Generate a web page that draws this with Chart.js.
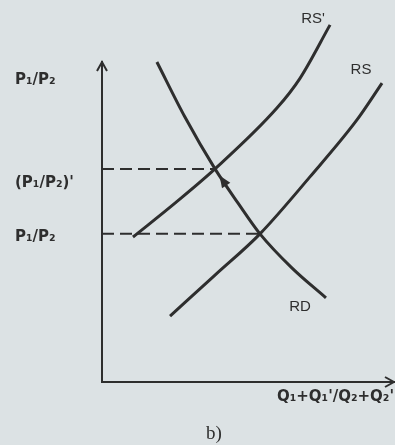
<!DOCTYPE html>
<html>
<head>
<meta charset="utf-8">
<script src="https://cdn.jsdelivr.net/npm/chart.js@4/dist/chart.umd.min.js"></script>
<style>
  html, body { margin: 0; padding: 0; background: #dce2e4; }
  #wrap { width: 395px; height: 445px; }
</style>
</head>
<body>
<div id="wrap"><canvas id="chart" width="395" height="445"></canvas></div>
<script>
/* ---------- Data (axis units 0..100) ---------- */
const rsX  = [23.3, 38.7, 54.1, 71.2, 87.3, 95.9];          // RS
const rsY  = [20.6, 33.4, 46.3, 64.1, 81.9, 93.4];
const rs2X = [10.6, 25.0, 38.7, 59.9, 67.8, 78.1];          // RS'
const rs2Y = [45.3, 55.9, 66.6, 85.6, 94.9, 111.6];
const rdX  = [18.8, 28.4, 38.7, 46.6, 54.1, 65.1, 76.7];    // RD
const rdY  = [100, 82.8, 66.6, 55.9, 46.3, 35.6, 26.3];
const eqX  = [38.7, 54.1];                                  // equilibria (dashed)
const eqY  = [66.6, 46.3];
const priceTicks  = [45.3, 62.2, 94.4];
const priceLabels = ['P₁/P₂', "(P₁/P₂)'", 'P₁/P₂'];
const curveNames  = ["RS'", 'RS', 'RD'];
const qLabel      = "Q₁+Q₁'/Q₂+Q₂'";
const panelLabel  = 'b)';

const INK = '#2e2e2e';
const pts = (xs, ys) => xs.map((x, i) => ({ x, y: ys[i] }));

/* ---------- Decorations: arrows + curve names ---------- */
const decor = {
  id: 'decor',
  afterDatasetsDraw(chart) {
    const { ctx, chartArea: a } = chart;
    ctx.save();
    ctx.strokeStyle = INK;
    ctx.fillStyle = INK;
    ctx.lineWidth = 2;

    // axis arrow heads
    ctx.beginPath();
    ctx.moveTo(a.left - 5, a.top + 9); ctx.lineTo(a.left, a.top); ctx.lineTo(a.left + 5, a.top + 9);
    ctx.moveTo(a.right - 9, a.bottom - 5); ctx.lineTo(a.right, a.bottom); ctx.lineTo(a.right - 9, a.bottom + 5);
    ctx.stroke();

    // small arrow on RD pointing to the new equilibrium
    const rd = chart.getDatasetMeta(2).data;
    const e1 = rd[2], e0 = rd[3];
    const dx = e0.x - e1.x, dy = e0.y - e1.y;
    const len = Math.hypot(dx, dy), ux = dx / len, uy = dy / len;
    const tip = { x: e1.x + ux * 8, y: e1.y + uy * 8 };
    const base = { x: e1.x + ux * 20, y: e1.y + uy * 20 };
    ctx.beginPath();
    ctx.moveTo(tip.x, tip.y);
    ctx.lineTo(base.x - uy * 5, base.y + ux * 5);
    ctx.lineTo(base.x + uy * 5, base.y - ux * 5);
    ctx.closePath();
    ctx.fill();

    // curve names near the ends
    ctx.font = '15px "Liberation Sans", Arial, sans-serif';
    ctx.textAlign = 'center';
    ctx.textBaseline = 'middle';
    const offs = [[-17, -6], [-21, -13], [-26, 9]];
    [1, 0, 2].forEach((di, k) => {
      const d = chart.getDatasetMeta(di).data;
      const p = d[d.length - 1];
      ctx.fillText(curveNames[k], p.x + offs[k][0], p.y + offs[k][1]);
    });

    // panel label
    ctx.font = '19px "Liberation Serif", "Times New Roman", serif';
    ctx.fillText(panelLabel, a.left + 112, chart.height - 11);
    ctx.restore();
  }
};

/* ---------- Chart ---------- */
const line = (data, extra) => Object.assign({
  data, borderColor: INK, borderWidth: 3, pointRadius: 0,
  cubicInterpolationMode: 'monotone', clip: false
}, extra);

const dashed = (i) => line(pts([0, eqX[i]], [eqY[i], eqY[i]]),
  { borderWidth: 2, borderDash: [12, 6], cubicInterpolationMode: 'default', tension: 0 });

new Chart(document.getElementById('chart'), {
  type: 'line',
  data: {
    datasets: [
      line(pts(rsX, rsY)),
      line(pts(rs2X, rs2Y)),
      line(pts(rdX, rdY)),
      dashed(0),
      dashed(1)
    ]
  },
  options: {
    responsive: false,
    animation: false,
    layout: { padding: { left: 15, top: 62, right: 1, bottom: 0 } },
    plugins: { legend: { display: false }, tooltip: { enabled: false } },
    scales: {
      x: {
        type: 'linear', min: 0, max: 100,
        grid: { display: false },
        border: { display: true, color: INK, width: 2 },
        ticks: { display: false },
        title: {
          display: true, text: qLabel, align: 'end', color: INK,
          font: { family: '"DejaVu Sans", sans-serif', size: 15, weight: 'bold' },
          padding: { top: 0, bottom: 39 }
        },
        afterFit: s => { s.height = 63; }
      },
      y: {
        type: 'linear', min: 0, max: 100,
        grid: { display: false, drawTicks: false },
        border: { display: true, color: INK, width: 2 },
        afterBuildTicks: s => { s.ticks = priceTicks.map(v => ({ value: v })); },
        ticks: {
          autoSkip: false, crossAlign: 'far', padding: 0, color: INK,
          font: { family: '"DejaVu Sans", sans-serif', size: 15, weight: 'bold' },
          callback: (v, i) => priceLabels[i]
        },
        afterFit: s => { s.width = 87; }
      }
    }
  },
  plugins: [decor]
});
</script>
</body>
</html>
